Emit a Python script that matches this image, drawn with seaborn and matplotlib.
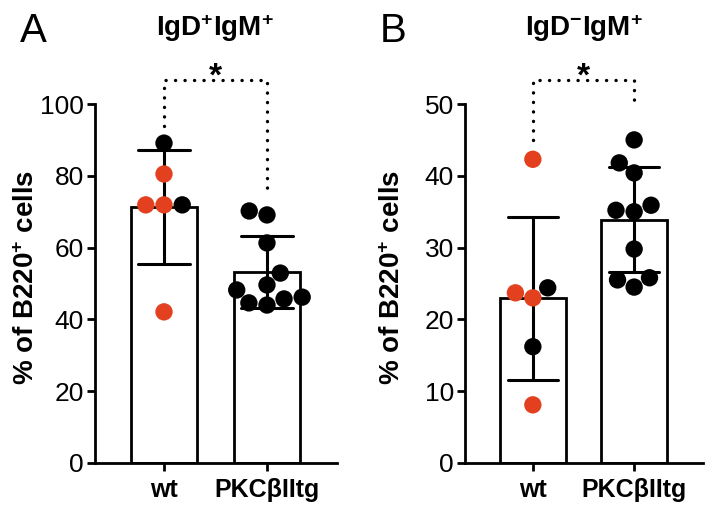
import matplotlib
matplotlib.use("Agg")
import matplotlib.pyplot as plt
import seaborn as sns
import pandas as pd

# ---------------- data ----------------
groups = ["wt", "PKCβIItg"]

wt_A = [89.1, 80.5, 71.9, 71.9, 71.9, 42.1]
wt_A_dot = ["black", "red", "black", "red", "red", "red"]
pkc_A = [70.2, 69.1, 61.3, 52.9, 49.6, 48.2, 46.2, 45.7, 44.6, 44.0]
pkc_A_dot = ["black"] * 10

wt_B = [42.3, 24.4, 23.7, 23.0, 16.2, 8.1]
wt_B_dot = ["red", "black", "red", "red", "black", "red"]
pkc_B = [45.0, 41.8, 40.4, 35.9, 35.2, 35.0, 29.8, 25.8, 25.5, 24.5]
pkc_B_dot = ["black"] * 10

titles = ["IgD$^{\\mathbf{+}}$IgM$^{\\mathbf{+}}$", "IgD$^{\\mathbf{-}}$IgM$^{\\mathbf{+}}$"]
panel_letters = ["A", "B"]
ylabel = "% of B220$^{\\mathbf{+}}$ cells"
yticks_A = [0, 20, 40, 60, 80, 100]
yticks_B = [0, 10, 20, 30, 40, 50]

# significance bracket levels (annotation, data units): left foot, top, right foot
sig_A = (94.0, 106.7, 74.0)
sig_B = (45.0, 53.3, 50.6)

RED = "#E2401E"
palette = {"red": RED, "black": "black"}


def frame(wt, wt_dot, pkc, pkc_dot):
    return pd.DataFrame({
        "group": [groups[0]] * len(wt) + [groups[1]] * len(pkc),
        "value": wt + pkc,
        "dot": wt_dot + pkc_dot,
    })


df_A = frame(wt_A, wt_A_dot, pkc_A, pkc_A_dot)
df_B = frame(wt_B, wt_B_dot, pkc_B, pkc_B_dot)

# ---------------- style ----------------
sns.set_style("ticks")
plt.rcParams["font.family"] = ["Liberation Sans", "DejaVu Sans"]
plt.rcParams["mathtext.fontset"] = "custom"
plt.rcParams["mathtext.rm"] = "Liberation Sans"
plt.rcParams["mathtext.bf"] = "Liberation Sans:bold"
plt.rcParams["mathtext.it"] = "Liberation Sans:italic"
for k in ["text.color", "axes.labelcolor", "xtick.color", "ytick.color",
          "axes.edgecolor", "xtick.labelcolor", "ytick.labelcolor"]:
    plt.rcParams[k] = "black"

W, H = 712, 517
fig = plt.figure(figsize=(W / 100, H / 100), dpi=100)

ax_A = fig.add_axes([95 / W, 1 - 463 / H, (337 - 95) / W, (463 - 104) / H])
ax_B = fig.add_axes([465 / W, 1 - 463 / H, (703 - 465) / W, (463 - 104) / H])

specs = [
    (ax_A, df_A, yticks_A, sig_A, 215, 22),
    (ax_B, df_B, yticks_B, sig_B, 584, 392),
]

for i, (ax, df, yt, sig, tx, lx) in enumerate(specs):
    sns.barplot(data=df, x="group", y="value", order=groups, errorbar="sd",
                capsize=0.5, width=0.65, color="white", edgecolor="black",
                linewidth=2, err_kws={"linewidth": 2.2, "color": "black"},
                ax=ax, zorder=2)
    sns.swarmplot(data=df, x="group", y="value", order=groups, hue="dot",
                  palette=palette, size=12.5, linewidth=0, legend=False,
                  ax=ax, zorder=4)
    ax.set_ylim(yt[0], yt[-1])
    ax.set_xlim(-0.67, 1.68)
    ax.set_yticks(yt)
    ax.set_xlabel("")
    ax.set_ylabel("")
    for s in ["top", "right"]:
        ax.spines[s].set_visible(False)
    for s in ["left", "bottom"]:
        ax.spines[s].set_linewidth(2)
        ax.spines[s].set_color("black")
    ax.tick_params(axis="y", length=6, width=2, labelsize=19, pad=2,
                   colors="black")
    ax.tick_params(axis="x", length=6, width=2, labelsize=18, pad=5,
                   colors="black")
    for lab in ax.get_xticklabels():
        lab.set_fontweight("bold")

    # significance bracket
    left, top, right = sig
    ax.plot([0, 0, 1, 1], [left, top, top, right], color="black", lw=2.4,
            linestyle=(0, (0.05, 2.8)), dash_capstyle="round",
            clip_on=False, zorder=5)
    ax.annotate("*", xy=(0.5, top), xytext=(0, -4), textcoords="offset points",
                ha="center", va="baseline", fontsize=24, fontweight="bold",
                annotation_clip=False)

    fig.text(tx / W, 1 - 28 / H, titles[i], ha="center", va="center",
             fontsize=20, fontweight="bold")
    fig.text((20 if i == 0 else 380) / W, 1 - 12 / H, panel_letters[i],
             ha="left", va="top", fontsize=29)
    fig.text((27 if i == 0 else 393) / W, 1 - 277 / H, ylabel,
             rotation=90, ha="center", va="center", fontsize=20,
             fontweight="bold")

fig.savefig("out.png", dpi=100)
